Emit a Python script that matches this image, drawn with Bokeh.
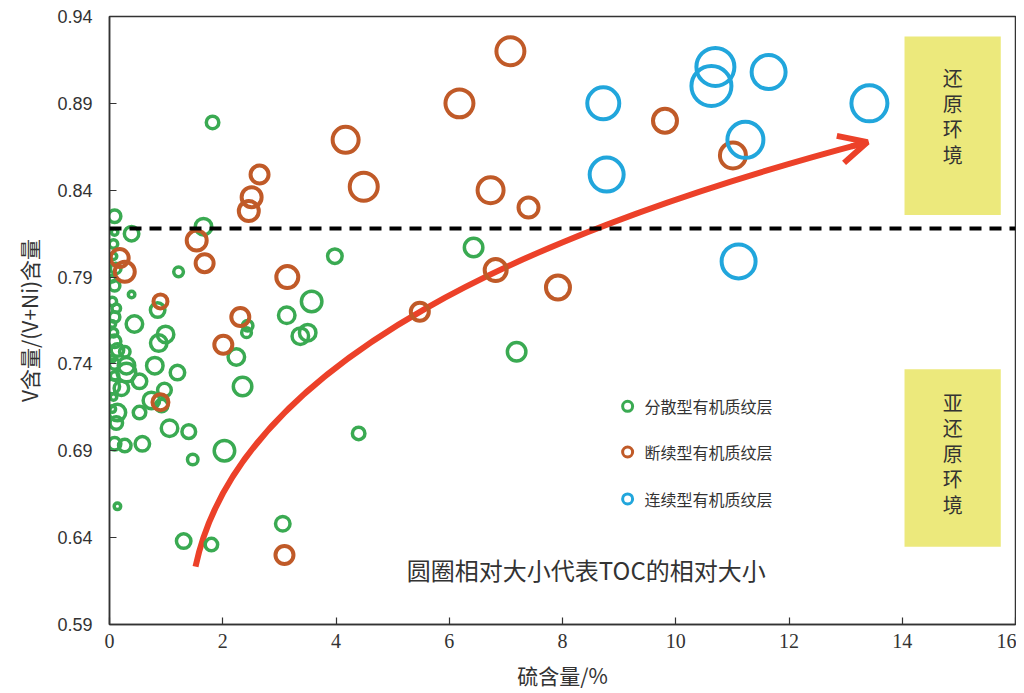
from bokeh.plotting import figure
from bokeh.models import Range1d, FixedTicker, PrintfTickFormatter, Span, Arrow, OpenHead
from bokeh.core.properties import value
from bokeh.embed import file_html
from bokeh.resources import INLINE

# ---- data ----
x_ticks = [0, 2, 4, 6, 8, 10, 12, 14, 16]
y_ticks = [0.59, 0.64, 0.69, 0.74, 0.79, 0.84, 0.89, 0.94]

# 分散型有机质纹层 (sulfur %, V/(V+Ni), relative TOC)
disp_s = [0.09, 0.39, 1.66, 1.22, 0.39, 0.44, 0.85, 0.99, 0.87, 2.44, 2.42, 2.24,
          0.09, 0.09, 0.05, 0.09, 0.09, 0.14, 0.27, 0.09, 0.30, 0.80, 1.20, 0.30,
          0.53, 0.05, 0.21, 0.97, 0.74, 0.92, 0.14, 0.53, 0.12, 1.06, 1.40, 0.09,
          0.27, 0.58, 2.03, 1.47, 0.14, 2.35, 1.31, 1.80, 1.82, 6.43, 3.98, 3.57,
          3.13, 3.37, 3.50, 7.19, 4.40, 3.06,
          0.07, 0.07, 0.11, 0.05, 0.12, 0.05, 0.07, 0.05, 0.09, 0.07, 0.05]
disp_v = [0.825, 0.815, 0.819, 0.793, 0.780, 0.763, 0.771, 0.757, 0.752, 0.762, 0.758, 0.744,
          0.816, 0.785, 0.776, 0.767, 0.753, 0.748, 0.747, 0.740, 0.739, 0.739, 0.735, 0.735,
          0.730, 0.727, 0.726, 0.725, 0.719, 0.716, 0.712, 0.712, 0.706, 0.703, 0.701, 0.694,
          0.693, 0.694, 0.690, 0.685, 0.658, 0.727, 0.638, 0.636, 0.879, 0.807, 0.802, 0.776,
          0.768, 0.756, 0.758, 0.747, 0.700, 0.648,
          0.809, 0.802, 0.795, 0.789, 0.772, 0.763, 0.758, 0.743, 0.733, 0.721, 0.714]
disp_toc = [4.0, 4.5, 5.0, 3.3, 2.5, 5.0, 4.5, 5.0, 5.0, 3.5, 3.3, 5.0,
            2.5, 3.5, 3.0, 3.5, 4.0, 4.0, 3.5, 3.5, 5.0, 5.0, 4.5, 5.5,
            4.5, 4.5, 4.5, 4.3, 5.0, 4.0, 5.0, 4.0, 4.0, 5.0, 4.3, 4.0,
            4.0, 4.5, 6.0, 3.5, 2.5, 5.5, 4.5, 4.0, 4.0, 5.5, 4.5, 6.0,
            5.0, 5.0, 5.0, 5.5, 4.0, 4.5,
            3.0, 2.5, 3.5, 2.5, 3.0, 2.5, 3.0, 2.5, 3.0, 2.5, 2.5]

# 断续型有机质纹层
inter_s = [7.08, 6.18, 4.17, 4.49, 6.73, 7.40, 9.81, 11.01, 7.92, 6.82, 5.48, 2.65,
           2.51, 2.46, 1.54, 1.68, 3.14, 2.31, 2.01, 3.09, 0.90, 0.90, 0.18, 0.27]
inter_v = [0.920, 0.890, 0.869, 0.842, 0.840, 0.830, 0.880, 0.860, 0.784, 0.794, 0.770, 0.849,
           0.836, 0.828, 0.811, 0.798, 0.790, 0.767, 0.751, 0.630, 0.776, 0.718, 0.801, 0.793]
inter_toc = [8.0, 8.0, 7.5, 8.0, 7.5, 6.0, 7.0, 7.5, 7.0, 6.5, 5.5, 5.5,
             6.0, 6.0, 6.0, 5.5, 6.5, 5.5, 5.5, 5.5, 4.5, 5.0, 5.5, 6.0]

# 连续型有机质纹层
cont_s = [8.72, 8.78, 10.70, 10.63, 11.64, 11.23, 11.11, 13.42]
cont_v = [0.890, 0.849, 0.911, 0.900, 0.908, 0.869, 0.799, 0.890]
cont_toc = [9.0, 9.5, 10.5, 11.0, 9.5, 10.0, 9.5, 10.0]

legend_labels = ["分散型有机质纹层", "断续型有机质纹层", "连续型有机质纹层"]
threshold = 0.818

GREEN = "#3aaa52"
BROWN = "#c05a28"
BLUE = "#21a6dc"
RED = "#ec4129"
YELLOW = "#ece97c"

p = figure(width=1016, height=692, output_backend="svg", toolbar_location=None,
           x_range=Range1d(0, 16), y_range=Range1d(0.59, 0.94),
           min_border_left=109, min_border_top=16, min_border_bottom=58, min_border_right=1)
p.xgrid.visible = False
p.ygrid.visible = False
p.outline_line_color = "#333333"
p.outline_line_width = 1.5
p.background_fill_color = "white"

for ax in (p.xaxis, p.yaxis):
    ax.axis_line_color = "#333333"
    ax.axis_line_width = 1.5
    ax.major_tick_in = 7
    ax.major_tick_out = 0
    ax.minor_tick_line_color = None
    ax.major_tick_line_color = "#333333"
    ax.major_tick_line_width = 1.2
    ax.major_label_text_color = "#333333"
    ax.axis_label_text_color = "#333333"
    ax.axis_label_text_font_style = "normal"
    ax.axis_label_text_font = "Noto Sans CJK SC"
    ax.axis_label_text_font_size = "21px"

p.xaxis.ticker = FixedTicker(ticks=x_ticks)
p.yaxis.ticker = FixedTicker(ticks=y_ticks)
p.yaxis.formatter = PrintfTickFormatter(format="%.2f")
p.xaxis.major_label_text_font = "Liberation Sans Narrow"
p.xaxis.major_label_text_font_size = "20px"
p.yaxis.major_label_text_font = "Liberation Sans"
p.yaxis.major_label_text_font_size = "18px"
p.xaxis.major_label_standoff = 9
p.yaxis.major_label_standoff = 17
p.xaxis.axis_label = "硫含量/%"
p.yaxis.axis_label = "V含量/(V+Ni)含量"
p.xaxis.axis_label_standoff = 9
p.yaxis.axis_label_standoff = 10

# environment boxes
p.quad(left=[14.04, 14.04], right=[15.74, 15.74], bottom=[0.8258, 0.6348], top=[0.9285, 0.7369],
       fill_color=YELLOW, line_color=None)
p.text(x=[14.89, 14.89], y=[0.8826, 0.6887],
       text=["\n".join("还原环境"), "\n".join("亚还原环境")],
       text_font=value("Noto Sans CJK SC"), text_font_size="20px", text_color="#333333",
       text_align="center", text_baseline="middle", text_line_height=0.88)

# threshold line
p.add_layout(Span(location=threshold, dimension="width", line_color="black",
                  line_width=4, line_dash="12 8"))

# trend arrow
p.bezier(x0=[1.519], y0=[0.6233], x1=[13.386], y1=[0.8677],
         cx0=[2.296], cy0=[0.7432], cx1=[7.594], cy1=[0.8178],
         line_color=RED, line_width=6)
p.add_layout(Arrow(end=OpenHead(size=28, line_color=RED, line_width=6),
                   x_start=13.10, y_start=0.8652, x_end=13.386, y_end=0.8677,
                   line_color=RED, line_width=6))

# data circles
def sizes(toc, lw):
    return [4.0 * t - lw for t in toc]

p.scatter(disp_s, disp_v, size=sizes(disp_toc, 3.5), marker="circle",
          fill_color=None, line_color=GREEN, line_width=3.5)
p.scatter(inter_s, inter_v, size=sizes(inter_toc, 4), marker="circle",
          fill_color=None, line_color=BROWN, line_width=4)
p.scatter(cont_s, cont_v, size=sizes(cont_toc, 4), marker="circle",
          fill_color=None, line_color=BLUE, line_width=4)

# legend (manual)
leg_y = [0.7156, 0.6893, 0.6623]
p.scatter([9.15] * 3, leg_y, size=10, marker="circle", fill_color=None,
          line_color=[GREEN, BROWN, BLUE], line_width=3)
p.text(x=[9.45] * 3, y=leg_y, text=legend_labels,
       text_font=value("Noto Sans CJK SC"), text_font_size="16px", text_color="#333333",
       text_align="left", text_baseline="middle")

# note
p.text(x=[8.42], y=[0.6216], text=["圆圈相对大小代表TOC的相对大小"],
       text_font=value("Noto Sans CJK SC"), text_font_size="24px", text_color="#333333",
       text_align="center", text_baseline="middle")

open("out.html", "w").write(file_html(p, INLINE))
